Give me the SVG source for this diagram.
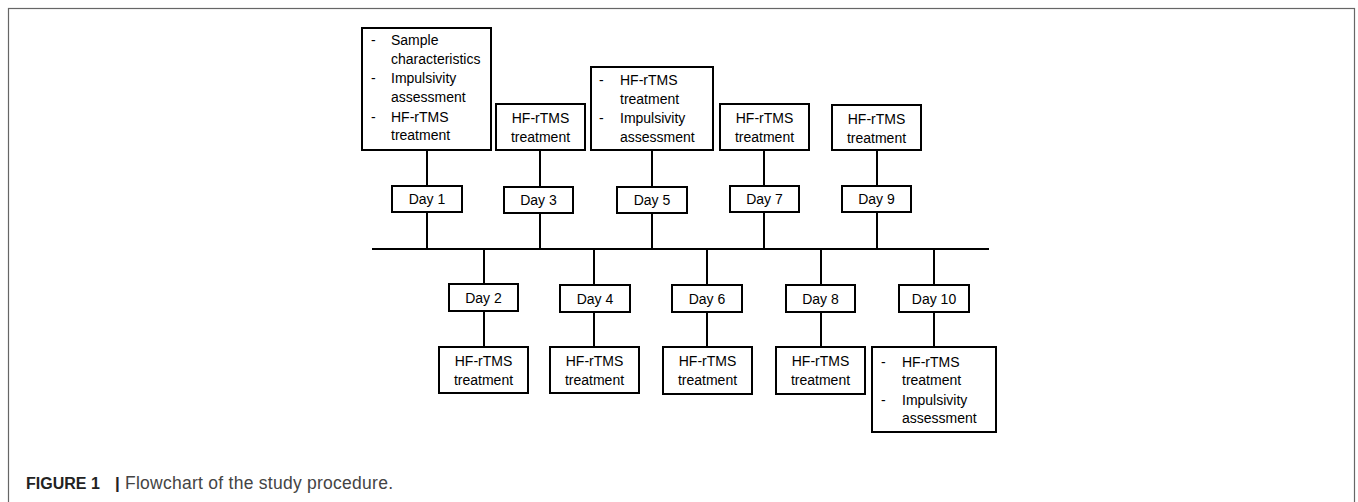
<svg xmlns="http://www.w3.org/2000/svg" width="1358" height="502" viewBox="0 0 1358 502">
<style>
.box{fill:#fff;stroke:#000;stroke-width:2}
.ln{stroke:#000;stroke-width:2;fill:none}
.t{font-family:"Liberation Sans",Arial,sans-serif;font-size:14px;fill:#000}
.c{text-anchor:middle}
.cap{font-family:"Liberation Sans",Arial,sans-serif}
</style>
<rect x="8.5" y="8.5" width="1346" height="600" fill="#fff" stroke="#666" stroke-width="1.2"/>
<g id="connectors">
<line class="ln" x1="372" y1="249" x2="989" y2="249"/>
<line class="ln" x1="427" y1="150" x2="427" y2="249"/>
<line class="ln" x1="540" y1="150" x2="540" y2="249"/>
<line class="ln" x1="652" y1="150" x2="652" y2="249"/>
<line class="ln" x1="764" y1="150" x2="764" y2="249"/>
<line class="ln" x1="877" y1="150" x2="877" y2="249"/>
<line class="ln" x1="484" y1="249" x2="484" y2="347"/>
<line class="ln" x1="594" y1="249" x2="594" y2="347"/>
<line class="ln" x1="707" y1="249" x2="707" y2="347"/>
<line class="ln" x1="821" y1="249" x2="821" y2="347"/>
<line class="ln" x1="934" y1="249" x2="934" y2="347"/>
</g>
<g id="top1">
<rect class="box" x="362" y="28" width="129" height="122"/>
<text class="t" x="371" y="45">-</text><text class="t" x="391" y="45">Sample</text>
<text class="t" x="391" y="64">characteristics</text>
<text class="t" x="371" y="83">-</text><text class="t" x="391" y="83">Impulsivity</text>
<text class="t" x="391" y="102">assessment</text>
<text class="t" x="371" y="122">-</text><text class="t" x="391" y="122">HF-rTMS</text>
<text class="t" x="391" y="140">treatment</text>
</g>
<g id="top3">
<rect class="box" x="496" y="104" width="89" height="46"/>
<text class="t c" x="540.5" y="123">HF-rTMS</text>
<text class="t c" x="540.5" y="142">treatment</text>
</g>
<g id="top5">
<rect class="box" x="591" y="67" width="122" height="83"/>
<text class="t" x="599" y="85">-</text><text class="t" x="620" y="85">HF-rTMS</text>
<text class="t" x="620" y="104">treatment</text>
<text class="t" x="599" y="123">-</text><text class="t" x="620" y="123">Impulsivity</text>
<text class="t" x="620" y="142">assessment</text>
</g>
<g id="top7">
<rect class="box" x="720" y="104" width="89" height="46"/>
<text class="t c" x="764.5" y="123">HF-rTMS</text>
<text class="t c" x="764.5" y="142">treatment</text>
</g>
<g id="top9">
<rect class="box" x="832" y="105" width="89" height="45"/>
<text class="t c" x="876.5" y="124">HF-rTMS</text>
<text class="t c" x="876.5" y="143">treatment</text>
</g>
<g id="day1"><rect class="box" x="392" y="186" width="70" height="26"/><text class="t c" x="427" y="204">Day 1</text></g>
<g id="day3"><rect class="box" x="504" y="187" width="69" height="26"/><text class="t c" x="538.5" y="205">Day 3</text></g>
<g id="day5"><rect class="box" x="617" y="187" width="70" height="26"/><text class="t c" x="652" y="205">Day 5</text></g>
<g id="day7"><rect class="box" x="730" y="186" width="69" height="26"/><text class="t c" x="764.5" y="204">Day 7</text></g>
<g id="day9"><rect class="box" x="842" y="186" width="69" height="26"/><text class="t c" x="876.5" y="204">Day 9</text></g>
<g id="day2"><rect class="box" x="449" y="284" width="69" height="27"/><text class="t c" x="483.5" y="303">Day 2</text></g>
<g id="day4"><rect class="box" x="560" y="285" width="70" height="27"/><text class="t c" x="595" y="304">Day 4</text></g>
<g id="day6"><rect class="box" x="672" y="285" width="70" height="27"/><text class="t c" x="707" y="304">Day 6</text></g>
<g id="day8"><rect class="box" x="786" y="285" width="69" height="27"/><text class="t c" x="820.5" y="304">Day 8</text></g>
<g id="day10"><rect class="box" x="899" y="285" width="70" height="27"/><text class="t c" x="934" y="304">Day 10</text></g>
<g id="bot2">
<rect class="box" x="439" y="347" width="89" height="46"/>
<text class="t c" x="483.5" y="366">HF-rTMS</text>
<text class="t c" x="483.5" y="385">treatment</text>
</g>
<g id="bot4">
<rect class="box" x="550" y="347" width="89" height="46"/>
<text class="t c" x="594.5" y="366">HF-rTMS</text>
<text class="t c" x="594.5" y="385">treatment</text>
</g>
<g id="bot6">
<rect class="box" x="663" y="347" width="89" height="47"/>
<text class="t c" x="707.5" y="366">HF-rTMS</text>
<text class="t c" x="707.5" y="385">treatment</text>
</g>
<g id="bot8">
<rect class="box" x="776" y="347" width="89" height="47"/>
<text class="t c" x="820.5" y="366">HF-rTMS</text>
<text class="t c" x="820.5" y="385">treatment</text>
</g>
<g id="bot10">
<rect class="box" x="872" y="347" width="124" height="85"/>
<text class="t" x="881" y="367">-</text><text class="t" x="902" y="367">HF-rTMS</text>
<text class="t" x="902" y="385">treatment</text>
<text class="t" x="881" y="405">-</text><text class="t" x="902" y="405">Impulsivity</text>
<text class="t" x="902" y="423">assessment</text>
</g>
<g id="caption">
<text class="cap" x="26" y="489" font-size="16" font-weight="bold" fill="#222">FIGURE 1</text>
<text class="cap" x="115" y="489" font-size="17" font-weight="bold" fill="#222">|</text>
<text class="cap" x="125" y="489" font-size="17.5" fill="#444" textLength="268" lengthAdjust="spacing">Flowchart of the study procedure.</text>
</g>
</svg>
